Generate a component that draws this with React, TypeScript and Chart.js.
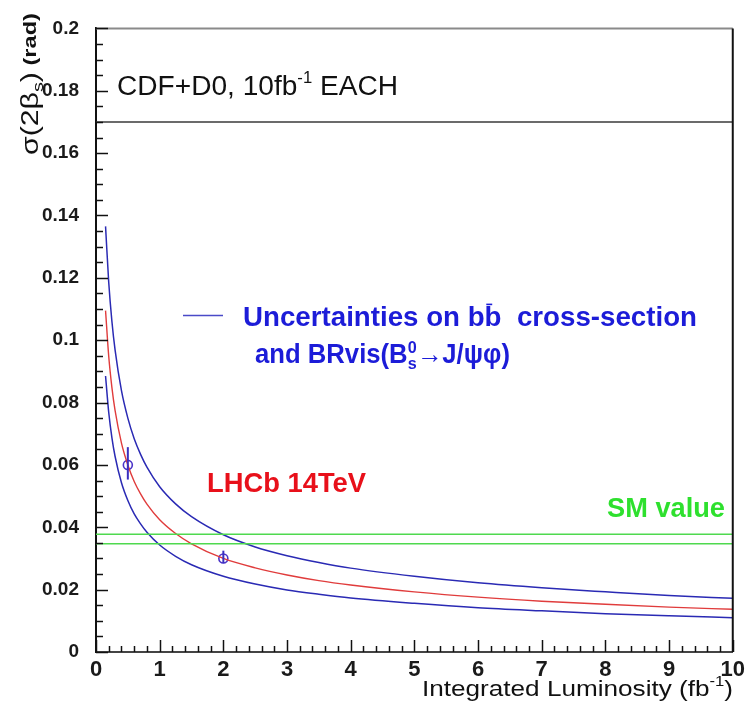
import React, { useEffect, useRef } from 'react';
import { Chart, registerables } from 'chart.js';

Chart.register(...registerables);

// ---- data ----
const luminosity = [0.15, 0.2, 0.25, 0.3, 0.4, 0.5, 0.6, 0.7, 0.8, 1, 1.25, 1.5, 2, 2.5, 3, 3.5, 4, 5, 6, 7, 8, 9, 10];
const sigmaCentral = [0.1095, 0.0948, 0.0848, 0.0774, 0.067, 0.06, 0.0547, 0.0507, 0.0474, 0.0424, 0.038, 0.0347, 0.03, 0.027, 0.0247, 0.0229, 0.0215, 0.0193, 0.0176, 0.0163, 0.0153, 0.0144, 0.0137];
const sigmaUpper = [0.1365, 0.1185, 0.106, 0.0968, 0.0838, 0.075, 0.0684, 0.0634, 0.0593, 0.053, 0.0475, 0.0434, 0.0376, 0.0337, 0.0309, 0.0287, 0.0269, 0.0243, 0.0222, 0.0206, 0.0193, 0.0181, 0.0172];
const sigmaLower = [0.0885, 0.0768, 0.0687, 0.0627, 0.0543, 0.0486, 0.0443, 0.0411, 0.0384, 0.0343, 0.0307, 0.028, 0.0243, 0.0218, 0.0199, 0.0185, 0.0173, 0.0156, 0.0142, 0.0132, 0.0123, 0.0116, 0.011];

const pointL = [0.5, 2];
const pointSigma = [0.06, 0.03];
const pointErrLow = [0.0553, 0.0285];
const pointErrHigh = [0.0657, 0.0325];

const cdfLevel = 0.17;
const smBand = [0.0347, 0.0378];

const xRange = [0, 10];
const yRange = [0, 0.2];
const xStep = 1;
const yStep = 0.02;

const FAMILY = '"Liberation Sans", Arial, Helvetica, sans-serif';

type Part = { t: string; size: number; dy?: number; bold?: boolean; noAdvance?: boolean; bar?: boolean };

function fontOf(p: Part) {
  return `${p.bold ? 'bold ' : ''}${p.size}px ${FAMILY}`;
}

function richWidth(ctx: CanvasRenderingContext2D, parts: Part[]) {
  let w = 0;
  for (const p of parts) {
    ctx.font = fontOf(p);
    if (!p.noAdvance) w += ctx.measureText(p.t).width;
  }
  return w;
}

function drawRich(
  ctx: CanvasRenderingContext2D,
  parts: Part[],
  x: number,
  y: number,
  opts: { color: string; align?: 'left' | 'right'; width?: number; rotate?: boolean }
) {
  ctx.save();
  ctx.translate(x, y);
  if (opts.rotate) ctx.rotate(-Math.PI / 2);
  const natural = richWidth(ctx, parts);
  const sx = opts.width ? opts.width / natural : 1;
  if (opts.align === 'right') ctx.translate(-natural * sx, 0);
  ctx.scale(sx, 1);
  ctx.fillStyle = opts.color;
  ctx.strokeStyle = opts.color;
  ctx.textBaseline = 'alphabetic';
  ctx.textAlign = 'left';
  let cx = 0;
  for (const p of parts) {
    ctx.font = fontOf(p);
    const w = ctx.measureText(p.t).width;
    ctx.fillText(p.t, cx, p.dy || 0);
    if (p.bar) {
      ctx.lineWidth = 1.6;
      ctx.beginPath();
      ctx.moveTo(cx + w * 0.1, (p.dy || 0) - p.size * 0.8);
      ctx.lineTo(cx + w * 0.45, (p.dy || 0) - p.size * 0.8);
      ctx.stroke();
    }
    if (!p.noAdvance) cx += w;
  }
  ctx.restore();
}

const decorPlugin = {
  id: 'decor',
  afterDatasetsDraw(chart: any) {
    const ctx: CanvasRenderingContext2D = chart.ctx;
    const xs = chart.scales.x;
    const ys = chart.scales.y;

    // error bars on the LHCb points
    ctx.save();
    ctx.strokeStyle = '#3a2fc0';
    ctx.lineWidth = 2;
    for (let i = 0; i < pointL.length; i++) {
      const px = xs.getPixelForValue(pointL[i]);
      ctx.beginPath();
      ctx.moveTo(px, ys.getPixelForValue(pointErrLow[i]));
      ctx.lineTo(px, ys.getPixelForValue(pointErrHigh[i]));
      ctx.stroke();
    }
    ctx.restore();
  },
  afterDraw(chart: any) {
    const ctx: CanvasRenderingContext2D = chart.ctx;
    const xs = chart.scales.x;
    const ys = chart.scales.y;
    const area = chart.chartArea;

    ctx.save();
    // frame: top (grey) and right (black)
    ctx.lineWidth = 2;
    ctx.strokeStyle = '#8a8a8a';
    ctx.beginPath();
    ctx.moveTo(area.left, area.top);
    ctx.lineTo(area.right, area.top);
    ctx.stroke();
    ctx.strokeStyle = '#111';
    ctx.beginPath();
    ctx.moveTo(area.right, area.top);
    ctx.lineTo(area.right, area.bottom);
    ctx.stroke();

    // inward ticks on y axis
    ctx.strokeStyle = '#111';
    ctx.lineWidth = 1.5;
    const yMinorCount = Math.round((yRange[1] - yRange[0]) / (yStep / 4));
    for (let i = 0; i <= yMinorCount; i++) {
      const v = yRange[0] + (i * yStep) / 4;
      const py = Math.round(ys.getPixelForValue(v)) + 0.5;
      const len = i % 4 === 0 ? 12 : 7;
      ctx.beginPath();
      ctx.moveTo(area.left, py);
      ctx.lineTo(area.left + len, py);
      ctx.stroke();
    }
    // inward ticks on x axis
    const xMinorCount = Math.round((xRange[1] - xRange[0]) / (xStep / 5));
    for (let i = 0; i <= xMinorCount; i++) {
      const v = xRange[0] + (i * xStep) / 5;
      const px = Math.round(xs.getPixelForValue(v)) + 0.5;
      const len = i % 5 === 0 ? 12 : 6;
      ctx.beginPath();
      ctx.moveTo(px, area.bottom);
      ctx.lineTo(px, area.bottom - len);
      ctx.stroke();
    }
    ctx.restore();

    // axis titles
    drawRich(
      ctx,
      [
        { t: 'Integrated Luminosity (fb', size: 22 },
        { t: '-1', size: 14, dy: -10 },
        { t: ')', size: 22 },
      ],
      733,
      696,
      { color: '#111', align: 'right', width: 311 }
    );
    drawRich(
      ctx,
      [
        { t: 'σ(2β', size: 23 },
        { t: 's', size: 15, dy: 5 },
        { t: ')', size: 23 },
        { t: ' (rad)', size: 18, bold: true, dy: -2 },
      ],
      38,
      155,
      { color: '#111', rotate: true, width: 142 }
    );

    // annotations
    drawRich(
      ctx,
      [
        { t: 'CDF+D0, 10fb', size: 27 },
        { t: '-1', size: 16, dy: -12 },
        { t: ' EACH', size: 27 },
      ],
      117,
      95,
      { color: '#111', width: 281 }
    );

    // legend line
    ctx.save();
    ctx.strokeStyle = '#4a4ac8';
    ctx.lineWidth = 1.5;
    ctx.beginPath();
    ctx.moveTo(183, 315.5);
    ctx.lineTo(223, 315.5);
    ctx.stroke();
    ctx.restore();

    drawRich(
      ctx,
      [
        { t: 'Uncertainties on b', size: 27, bold: true },
        { t: 'b', size: 27, bold: true, bar: true },
        { t: '  cross-section', size: 27, bold: true },
      ],
      243,
      326,
      { color: '#1c1cd8', width: 454 }
    );
    drawRich(
      ctx,
      [
        { t: 'and BRvis(B', size: 27, bold: true },
        { t: '0', size: 17, bold: true, dy: -10, noAdvance: true },
        { t: 's', size: 17, bold: true, dy: 6 },
        { t: '→J/ψφ)', size: 27, bold: true },
      ],
      255,
      363,
      { color: '#1c1cd8', width: 255 }
    );

    drawRich(ctx, [{ t: 'LHCb 14TeV', size: 27, bold: true }], 207, 492, { color: '#e8101a', width: 159 });
    drawRich(ctx, [{ t: 'SM value', size: 27, bold: true }], 607, 517, { color: '#2ee02e', width: 118 });
  },
};

export default function App() {
  const ref = useRef<HTMLCanvasElement | null>(null);

  useEffect(() => {
    document.body.style.margin = '0';
    const canvas = ref.current;
    if (!canvas) return;

    const line = (ys: number[]) => luminosity.map((x, i) => ({ x, y: ys[i] }));
    const hline = (v: number) => [
      { x: xRange[0], y: v },
      { x: xRange[1], y: v },
    ];

    const chart = new Chart(canvas, {
      type: 'scatter',
      data: {
        datasets: [
          {
            label: 'CDF+D0',
            data: hline(cdfLevel),
            showLine: true,
            borderColor: '#3a3a3a',
            borderWidth: 1.6,
            pointRadius: 0,
          },
          {
            label: 'SM low',
            data: hline(smBand[0]),
            showLine: true,
            borderColor: '#4fd94f',
            borderWidth: 1.5,
            pointRadius: 0,
          },
          {
            label: 'SM high',
            data: hline(smBand[1]),
            showLine: true,
            borderColor: '#4fd94f',
            borderWidth: 1.5,
            pointRadius: 0,
          },
          {
            label: 'upper',
            data: line(sigmaUpper),
            showLine: true,
            borderColor: '#2a2ab4',
            borderWidth: 1.5,
            pointRadius: 0,
            cubicInterpolationMode: 'monotone',
          },
          {
            label: 'lower',
            data: line(sigmaLower),
            showLine: true,
            borderColor: '#2a2ab4',
            borderWidth: 1.5,
            pointRadius: 0,
            cubicInterpolationMode: 'monotone',
          },
          {
            label: 'LHCb 14TeV',
            data: line(sigmaCentral),
            showLine: true,
            borderColor: '#e03c3c',
            borderWidth: 1.4,
            pointRadius: 0,
            cubicInterpolationMode: 'monotone',
          },
          {
            label: 'points',
            data: pointL.map((x, i) => ({ x, y: pointSigma[i] })),
            showLine: false,
            pointRadius: 4.5,
            pointStyle: 'circle',
            borderColor: '#4b34c8',
            backgroundColor: 'rgba(255,255,255,0)',
            borderWidth: 1.6,
          },
        ],
      } as any,
      options: {
        responsive: false,
        animation: false,
        devicePixelRatio: 1,
        layout: { padding: { top: 13, right: 16, left: 0, bottom: 0 } },
        plugins: { legend: { display: false }, tooltip: { enabled: false } },
        scales: {
          x: {
            type: 'linear',
            min: xRange[0],
            max: xRange[1],
            grid: { display: false, drawTicks: false },
            border: { display: true, color: '#444', width: 2 },
            ticks: {
              stepSize: xStep,
              padding: 5,
              maxRotation: 0,
              autoSkip: false,
              color: '#1a1a1a',
              font: { family: FAMILY, size: 22, weight: 'bold' },
              callback: (v: any) => String(+Number(v).toFixed(2)),
            },
            afterFit: (s: any) => {
              s.height = 53;
            },
          },
          y: {
            type: 'linear',
            min: yRange[0],
            max: yRange[1],
            grid: { display: false, drawTicks: false },
            border: { display: true, color: '#111', width: 2 },
            ticks: {
              stepSize: yStep,
              padding: 17,
              autoSkip: false,
              color: '#1a1a1a',
              font: { family: FAMILY, size: 19, weight: 'bold' },
              callback: (v: any) => String(+Number(v).toFixed(3)),
            },
            afterFit: (s: any) => {
              s.width = 96;
            },
          },
        },
      } as any,
      plugins: [decorPlugin],
    });

    return () => chart.destroy();
  }, []);

  return <canvas ref={ref} width={750} height={705} style={{ display: 'block', background: '#fff' }} />;
}
